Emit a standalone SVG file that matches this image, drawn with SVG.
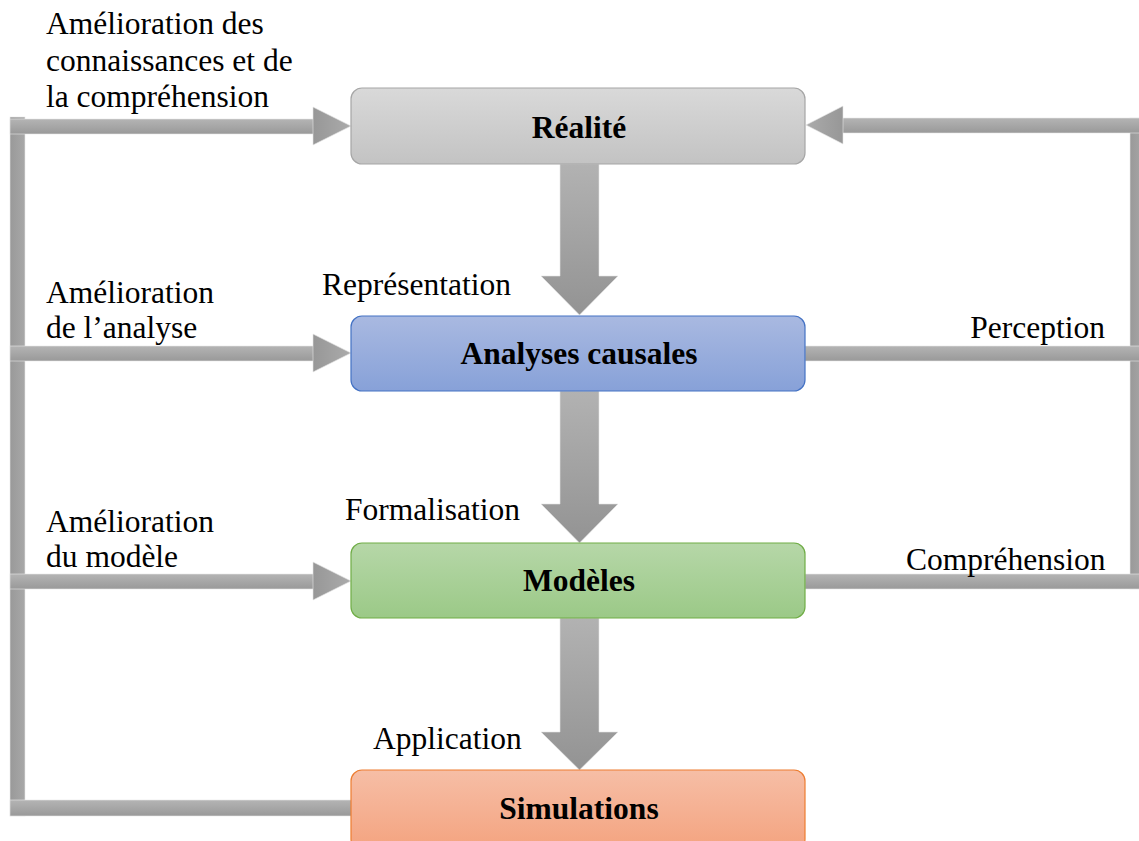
<svg xmlns="http://www.w3.org/2000/svg" width="1139" height="841" viewBox="0 0 1139 841">
  <defs>
    <linearGradient id="gH" x1="0" y1="0" x2="0" y2="1">
      <stop offset="0" stop-color="#b4b4b4"/>
      <stop offset="1" stop-color="#999999"/>
    </linearGradient>
    <linearGradient id="gV" x1="0" y1="0" x2="1" y2="0">
      <stop offset="0" stop-color="#999999"/>
      <stop offset="1" stop-color="#a8a8a8"/>
    </linearGradient>
    <linearGradient id="gDown" x1="0" y1="0" x2="0" y2="1">
      <stop offset="0" stop-color="#b2b2b2"/>
      <stop offset="1" stop-color="#939393"/>
    </linearGradient>
    <linearGradient id="gHeadR" x1="0" y1="0" x2="1" y2="0">
      <stop offset="0" stop-color="#979797"/>
      <stop offset="1" stop-color="#ababab"/>
    </linearGradient>
    <linearGradient id="gHeadL" x1="0" y1="0" x2="1" y2="0">
      <stop offset="0" stop-color="#ababab"/>
      <stop offset="1" stop-color="#979797"/>
    </linearGradient>
    <linearGradient id="gGray" x1="0" y1="0" x2="0" y2="1">
      <stop offset="0" stop-color="#d9d9d9"/>
      <stop offset="1" stop-color="#c3c3c3"/>
    </linearGradient>
    <linearGradient id="gBlue" x1="0" y1="0" x2="0" y2="1">
      <stop offset="0" stop-color="#a9b9e1"/>
      <stop offset="1" stop-color="#87a1d8"/>
    </linearGradient>
    <linearGradient id="gGreen" x1="0" y1="0" x2="0" y2="1">
      <stop offset="0" stop-color="#b6d7a8"/>
      <stop offset="1" stop-color="#9bc987"/>
    </linearGradient>
    <linearGradient id="gOrange" x1="0" y1="0" x2="0" y2="1">
      <stop offset="0" stop-color="#f6bea6"/>
      <stop offset="1" stop-color="#f4a37f"/>
    </linearGradient>
  </defs>
  <style>
    .lbl { font-family: "Liberation Serif", "Times New Roman", serif; font-size: 31.5px; fill: #000; }
    .title { font-family: "Liberation Serif", "Times New Roman", serif; font-size: 31.5px; font-weight: bold; fill: #000; text-anchor: middle; }
    .box { stroke-width: 1.2; }
    .edge { stroke: #e6e6e6; stroke-width: 0.6; }
  </style>

  <rect width="1139" height="841" fill="#ffffff"/>

  <g id="connectors">
    <!-- feedback loop on the left -->
    <rect class="edge" x="10" y="117" width="15" height="699" fill="url(#gV)"/>
    <rect class="edge" x="10" y="119" width="304" height="15" fill="url(#gH)"/>
    <polygon class="edge" points="313,107 351,126 313,145" fill="url(#gHeadR)"/>
    <rect class="edge" x="10" y="346" width="304" height="15" fill="url(#gH)"/>
    <polygon class="edge" points="313,334 351,353 313,372" fill="url(#gHeadR)"/>
    <rect class="edge" x="10" y="574" width="304" height="15" fill="url(#gH)"/>
    <polygon class="edge" points="313,562 351,581 313,600" fill="url(#gHeadR)"/>
    <rect class="edge" x="10" y="800" width="342" height="16" fill="url(#gH)"/>

    <!-- feedback loop on the right -->
    <rect class="edge" x="1130" y="118" width="15" height="471" fill="url(#gV)"/>
    <rect class="edge" x="842" y="118" width="303" height="15" fill="url(#gH)"/>
    <polygon class="edge" points="843,106 806,125 843,144" fill="url(#gHeadL)"/>
    <rect class="edge" x="805" y="346" width="340" height="15" fill="url(#gH)"/>
    <rect class="edge" x="805" y="574" width="340" height="15" fill="url(#gH)"/>

    <!-- downward flow -->
    <polygon class="edge" points="560,164 599,164 599,276 618,276 579.5,315 541,276 560,276" fill="url(#gDown)"/>
    <polygon class="edge" points="560,391 599,391 599,504 618,504 579.5,543 541,504 560,504" fill="url(#gDown)"/>
    <polygon class="edge" points="560,618 599,618 599,732 618,732 579.5,770 541,732 560,732" fill="url(#gDown)"/>
  </g>

  <g id="node-realite">
    <rect class="box" x="351" y="88" width="454" height="76" rx="11" fill="url(#gGray)" stroke="#a6a6a6"/>
    <text class="title" x="579" y="138">Réalité</text>
  </g>
  <g id="node-analyses">
    <rect class="box" x="351" y="316" width="454" height="75" rx="11" fill="url(#gBlue)" stroke="#4472c4"/>
    <text class="title" x="579" y="364">Analyses causales</text>
  </g>
  <g id="node-modeles">
    <rect class="box" x="351" y="543" width="454" height="75" rx="11" fill="url(#gGreen)" stroke="#70ad47"/>
    <text class="title" x="579" y="591">Modèles</text>
  </g>
  <g id="node-simulations">
    <rect class="box" x="351" y="770" width="454" height="80" rx="11" fill="url(#gOrange)" stroke="#ed7d31"/>
    <text class="title" x="579" y="819">Simulations</text>
  </g>

  <g id="labels">
    <text class="lbl" x="46" y="34">Amélioration des</text>
    <text class="lbl" x="46" y="71">connaissances et de</text>
    <text class="lbl" x="46" y="107">la compréhension</text>

    <text class="lbl" x="46" y="303">Amélioration</text>
    <text class="lbl" x="46" y="338">de l’analyse</text>
    <text class="lbl" x="322" y="295">Représentation</text>
    <text class="lbl" x="1105" y="338" text-anchor="end">Perception</text>

    <text class="lbl" x="46" y="532">Amélioration</text>
    <text class="lbl" x="46" y="567">du modèle</text>
    <text class="lbl" x="345" y="520">Formalisation</text>
    <text class="lbl" x="906" y="570">Compréhension</text>

    <text class="lbl" x="373" y="749">Application</text>
  </g>
</svg>
